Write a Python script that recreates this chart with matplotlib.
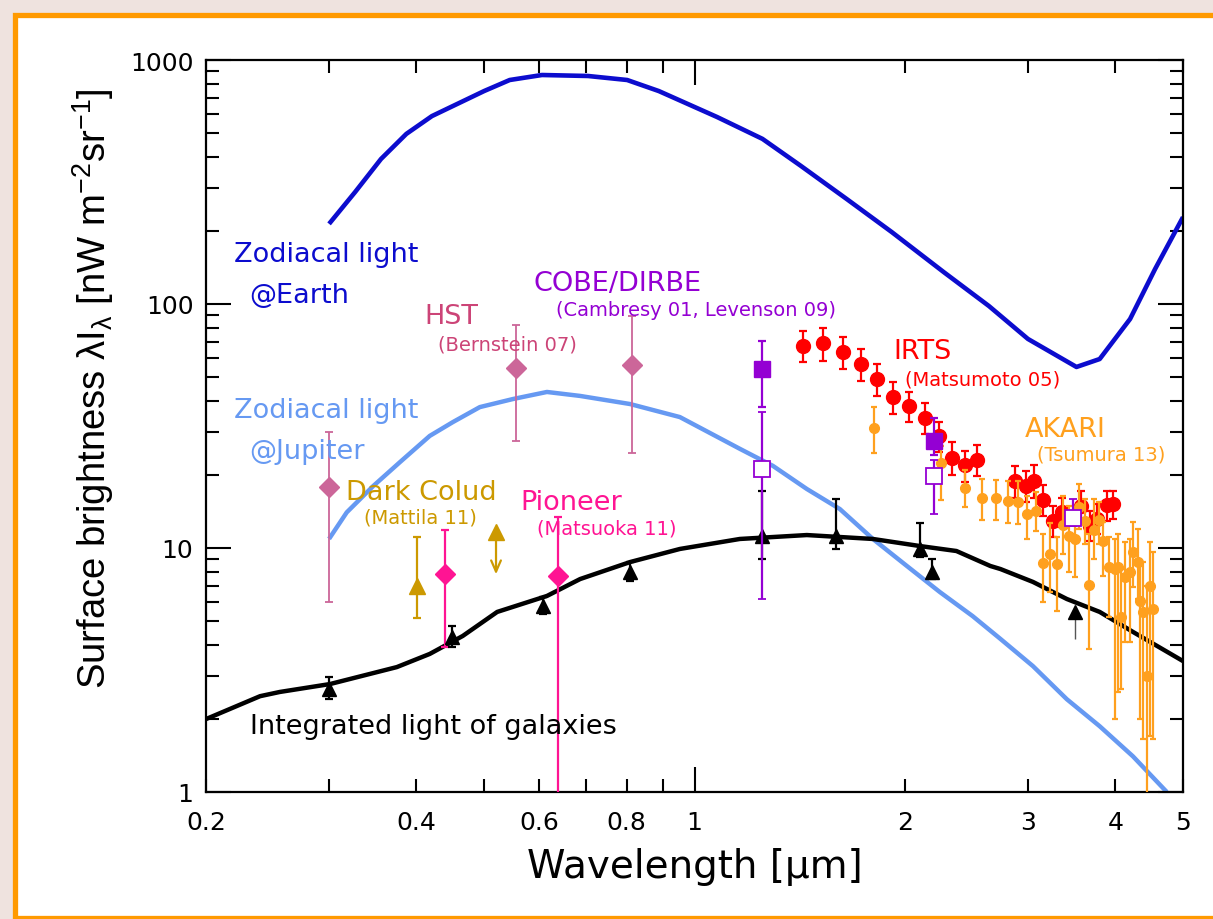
import numpy as np
import matplotlib
matplotlib.use('Agg')
import matplotlib.pyplot as plt
from matplotlib.patches import Rectangle
from matplotlib.ticker import FixedLocator, FixedFormatter, NullFormatter

# ---------------- data ----------------
# Zodiacal light @Earth
zle_wl = [0.30, 0.327, 0.356, 0.387, 0.421, 0.500, 0.544, 0.605, 0.704, 0.801, 0.889,
          1.077, 1.251, 1.420, 1.652, 1.916, 2.274, 2.638, 3.00, 3.52, 3.80, 4.20, 4.56, 5.0]
zle_val = [213, 288, 393, 498, 589, 746, 828, 868, 860, 828, 746,
           584, 475, 368, 269, 197, 135, 98.1, 71.9, 55.2, 59.5, 86.8, 139, 227]

# Zodiacal light @Jupiter
zlj_wl = [0.30, 0.318, 0.347, 0.379, 0.418, 0.451, 0.493, 0.550, 0.615, 0.686, 0.809, 0.953,
          1.161, 1.295, 1.448, 1.614, 1.80, 2.013, 2.244, 2.50, 2.74, 3.05, 3.41, 3.80, 4.24, 4.74]
zlj_val = [10.9, 14.0, 17.95, 22.5, 28.8, 32.8, 37.8, 40.8, 43.6, 42.0, 38.9, 34.4,
           25.5, 21.7, 17.45, 14.45, 10.89, 8.44, 6.6, 5.26, 4.24, 3.28, 2.40, 1.86, 1.40, 1.0]

# Integrated light of galaxies (model curve)
igl_wl = [0.2, 0.239, 0.255, 0.301, 0.375, 0.418, 0.466, 0.522, 0.615, 0.686, 0.809, 0.953,
          1.161, 1.448, 1.80, 2.10, 2.37, 2.65, 2.74, 3.05, 3.41, 3.80, 4.24, 5.0]
igl_val = [1.99, 2.47, 2.57, 2.77, 3.25, 3.68, 4.36, 5.47, 6.36, 7.46, 8.76, 9.91,
           10.89, 11.3, 10.89, 10.19, 9.72, 8.44, 8.20, 7.26, 6.18, 5.47, 4.53, 3.44]

# Integrated light of galaxies (measurements)
iglp_wl = [0.30, 0.45, 0.607, 0.809, 1.249, 1.593, 2.10, 2.19]
iglp_val = [2.64, 4.32, 5.78, 7.97, 11.2, 11.2, 9.91, 7.97]
iglp_hi = [2.96, 4.79, 6.30, 8.76, 17.1, 15.9, 12.7, 9.02]
iglp_lo = [2.40, 3.93, 5.37, 7.32, 9.02, 9.91, 9.19, 7.46]
iglp2_wl = [3.50]
iglp2_val = [5.47]
iglp2_lo = [4.24]

# HST (Bernstein 07)
hst_wl = [0.30, 0.555, 0.814]
hst_val = [17.8, 54.7, 56.2]
hst_hi = [29.9, 82.0, 89.3]
hst_lo = [6.01, 27.4, 24.5]

# Pioneer (Matsuoka 11)
pio_wl = [0.439, 0.638]
pio_val = [7.82, 7.68]
pio_hi = [11.85, 13.4]
pio_lo = [3.93, 0.9]

# Dark Cloud (Mattila 11)
dc_wl = [0.401]
dc_val = [6.99]
dc_hi = [11.09]
dc_lo = [5.17]
dcr_wl = [0.520]
dcr_top = [11.6]
dcr_bot = [7.8]

# COBE/DIRBE (Cambresy 01, Levenson 09)
cobef_wl = [1.25, 2.2]
cobef_val = [54.2, 27.4]
cobef_hi = [70.5, 34.1]
cobef_lo = [37.8, 24.0]
cobeo_wl = [1.25, 2.2, 3.48]
cobeo_val = [21.1, 19.7, 13.3]
cobeo_hi = [36.1, 23.0, 15.9]
cobeo_lo = [6.18, 13.8, 12.3]

# IRTS (Matsumoto 05)
irts_wl = [1.430, 1.525, 1.629, 1.729, 1.826, 1.924, 2.029, 2.137, 2.240, 2.336, 2.437, 2.536,
           2.874, 2.978, 3.06, 3.154, 3.26, 3.36, 3.57, 3.68, 3.77, 3.89, 3.97]
irts_val = [67.5, 69.2, 63.8, 56.8, 49.3, 41.5, 38.1, 34.1, 28.7, 23.3, 21.9, 22.9,
            18.8, 17.9, 18.9, 15.7, 12.9, 14.1, 14.9, 12.3, 13.1, 15.0, 15.1]
irts_hi = [77.8, 79.5, 73.0, 65.4, 56.8, 48.1, 43.7, 39.3, 32.9, 27.1, 25.0, 26.4,
           21.7, 20.7, 21.9, 18.2, 14.9, 16.1, 17.2, 14.2, 15.1, 17.2, 17.2]
irts_lo = [57.7, 58.6, 54.2, 48.5, 42.1, 35.4, 32.7, 29.3, 24.8, 20.0, 18.7, 19.7,
           16.1, 15.4, 16.1, 13.5, 11.1, 12.2, 12.7, 10.7, 11.4, 12.9, 13.1]

# AKARI (Tsumura 13)
akari_wl = [1.806, 2.249, 2.437, 2.577, 2.700, 2.811, 2.902, 2.994, 3.084, 3.154, 3.231, 3.305,
            3.365, 3.433, 3.502, 3.548, 3.619, 3.663, 3.728, 3.789, 3.844, 3.921, 3.995, 4.041,
            4.074, 4.129, 4.198, 4.243, 4.314, 4.338, 4.385, 4.435, 4.483, 4.532]
akari_val = [31.0, 22.3, 17.6, 16.0, 16.0, 15.6, 15.5, 13.8, 14.2, 8.68, 9.45, 8.60,
             12.4, 11.2, 10.9, 14.7, 12.9, 7.07, 11.9, 13.0, 10.7, 8.33, 8.20, 8.32,
             5.21, 7.59, 7.95, 9.60, 8.74, 6.08, 5.45, 3.0, 7.01, 5.62]
akari_hi = [37.8, 26.2, 20.9, 19.2, 19.0, 18.8, 18.8, 16.3, 17.0, 11.4, 12.7, 11.1,
            16.3, 14.9, 14.3, 18.3, 15.9, 11.4, 15.9, 15.4, 12.8, 11.1, 10.9, 11.4,
            8.20, 10.6, 10.9, 12.8, 12.0, 8.76, 8.76, 6.99, 10.6, 9.63]
akari_lo = [24.5, 15.7, 14.7, 13.0, 13.0, 12.7, 12.5, 10.9, 11.7, 6.01, 6.6, 5.52,
            9.45, 7.97, 7.61, 12.0, 10.4, 3.85, 9.02, 10.4, 7.68, 5.21, 1.99, 2.57,
            2.64, 4.12, 4.12, 6.92, 6.18, 1.99, 1.65, 0.95, 1.70, 1.65]

# ---------------- style ----------------
C_EARTH = '#0c0cce'
C_JUP = '#6699f2'
C_HST_PT = '#cc6699'
C_HST_TX = '#cc4477'
C_COBE = '#9400d3'
C_IRTS = '#ff0000'
C_AKARI = '#ffa01e'
C_DC = '#cc9900'
C_PIO = '#ff1493'

W, H = 1213, 920
fig = plt.figure(figsize=(W / 100, H / 100), dpi=100, facecolor='#efe3df')
bg = fig.add_axes([0, 0, 1, 1], zorder=-5)
bg.set_axis_off()
bg.set_xlim(0, 1)
bg.set_ylim(0, 1)
bg.add_patch(Rectangle((14.5 / W, 1 / H), 1.2, (H - 16.5) / H, transform=bg.transAxes,
                       facecolor='white', edgecolor='#ff9a00', linewidth=3.8, clip_on=False))

ax = fig.add_axes([206 / W, (H - 793) / H, 977 / W, 732 / H], zorder=1)
ax.set_facecolor('white')
ax.set_xscale('log')
ax.set_yscale('log')


def yerr(v, hi, lo):
    v = np.asarray(v, float)
    return [v - np.asarray(lo, float), np.asarray(hi, float) - v]


# curves
ax.plot(zle_wl, zle_val, color=C_EARTH, lw=3.3, zorder=2, solid_capstyle='butt')
ax.plot(zlj_wl, zlj_val, color=C_JUP, lw=3.2, zorder=2, solid_capstyle='butt')
ax.plot(igl_wl, igl_val, color='black', lw=3.2, zorder=2, solid_capstyle='butt')

# IGL measurements
ax.errorbar(iglp_wl, iglp_val, yerr=yerr(iglp_val, iglp_hi, iglp_lo), fmt='^', color='black',
            ms=10, elinewidth=1.6, capsize=3, capthick=1.6, zorder=4)
ax.errorbar(iglp2_wl, iglp2_val, yerr=yerr(iglp2_val, iglp2_val, iglp2_lo), fmt='^',
            color='black', ecolor='#555555', ms=10, elinewidth=1.0, capsize=0, zorder=4)

# HST
ax.errorbar(hst_wl, hst_val, yerr=yerr(hst_val, hst_hi, hst_lo), fmt='D', color=C_HST_PT,
            ms=10, elinewidth=1.3, capsize=3.2, capthick=1.3, zorder=3)

# Pioneer
ax.errorbar(pio_wl, pio_val, yerr=yerr(pio_val, pio_hi, pio_lo), fmt='D', color=C_PIO,
            ms=10, elinewidth=1.6, capsize=3, capthick=1.6, zorder=3)

# Dark cloud
ax.errorbar(dc_wl, dc_val, yerr=yerr(dc_val, dc_hi, dc_lo), fmt='^', color=C_DC,
            ms=11, elinewidth=1.6, capsize=3.2, capthick=1.6, zorder=3)
for x, t, b in zip(dcr_wl, dcr_top, dcr_bot):
    ax.annotate('', xy=(x, b), xytext=(x, t),
                arrowprops=dict(arrowstyle='->,head_length=0.8,head_width=0.35',
                                color=C_DC, lw=1.6, shrinkA=0, shrinkB=0), zorder=3)
ax.plot(dcr_wl, dcr_top, '^', color=C_DC, ms=11, zorder=3)

# IRTS
ax.errorbar(irts_wl, irts_val, yerr=yerr(irts_val, irts_hi, irts_lo), fmt='o', color=C_IRTS,
            ms=10, elinewidth=1.6, capsize=3, capthick=1.6, zorder=5)

# AKARI
ax.errorbar(akari_wl, akari_val, yerr=yerr(akari_val, akari_hi, akari_lo), fmt='o',
            color=C_AKARI, ms=7, elinewidth=1.6, capsize=2.4, capthick=1.6, zorder=6)

# COBE/DIRBE
ax.errorbar(cobef_wl, cobef_val, yerr=yerr(cobef_val, cobef_hi, cobef_lo), fmt='s',
            color=C_COBE, ms=11.5, elinewidth=1.6, capsize=3, capthick=1.6, zorder=7)
ax.errorbar(cobeo_wl, cobeo_val, yerr=yerr(cobeo_val, cobeo_hi, cobeo_lo), fmt='s',
            color=C_COBE, mfc='white', mec=C_COBE, mew=1.3, ms=11.5, elinewidth=1.6,
            capsize=3, capthick=1.6, zorder=7)

# axes
ax.set_xlim(0.2, 5)
ax.set_ylim(1, 1000)

ax.xaxis.set_major_locator(FixedLocator([1]))
ax.xaxis.set_major_formatter(FixedFormatter(['1']))
xminor = [0.2, 0.3, 0.4, 0.5, 0.6, 0.7, 0.8, 0.9, 2, 3, 4, 5]
xminor_lab = ['0.2', '', '0.4', '', '0.6', '', '0.8', '', '2', '3', '4', '5']
ax.xaxis.set_minor_locator(FixedLocator(xminor))
ax.xaxis.set_minor_formatter(FixedFormatter(xminor_lab))

ax.yaxis.set_major_locator(FixedLocator([1, 10, 100, 1000]))
ax.yaxis.set_major_formatter(FixedFormatter(['1', '10', '100', '1000']))
ymin = [m * d for d in (1, 10, 100) for m in range(2, 10)]
ax.yaxis.set_minor_locator(FixedLocator(ymin))
ax.yaxis.set_minor_formatter(NullFormatter())

ax.tick_params(which='both', direction='in', top=True, right=True, width=1.5,
               labelsize=18, color='black')
ax.tick_params(which='major', length=18)
ax.tick_params(which='minor', length=9.5)
ax.tick_params(axis='x', which='both', pad=13)
ax.tick_params(axis='y', which='both', pad=9)
for s in ax.spines.values():
    s.set_linewidth(1.6)

ax.set_xlabel('Wavelength [μm]', fontsize=28, labelpad=9)
ax.set_ylabel('Surface brightness λI$_{\\mathregular{λ}}$ [nW m$^{\\mathregular{-2}}$sr$^{\\mathregular{-1}}$]',
              fontsize=27.5, family='Liberation Sans', labelpad=6)
ax.yaxis.set_label_coords(-0.092, 0.552)

# annotations (axes-fraction positions)
BIG = 19.5
SMALL = 14
tx = [
    (0.0287, 0.735, 'Zodiacal light', C_EARTH, BIG),
    (0.0440, 0.679, '@Earth', C_EARTH, BIG),
    (0.2231, 0.650, 'HST', C_HST_TX, BIG),
    (0.2375, 0.612, '(Bernstein 07)', C_HST_TX, SMALL),
    (0.3347, 0.6954, 'COBE/DIRBE', C_COBE, BIG),
    (0.3582, 0.6598, '(Cambresy 01, Levenson 09)', C_COBE, SMALL),
    (0.7032, 0.6025, 'IRTS', C_IRTS, BIG),
    (0.7155, 0.5642, '(Matsumoto 05)', C_IRTS, SMALL),
    (0.8383, 0.4959, 'AKARI', C_AKARI, BIG),
    (0.8506, 0.4617, '(Tsumura 13)', C_AKARI, SMALL),
    (0.0287, 0.5219, 'Zodiacal light', C_JUP, BIG),
    (0.0440, 0.4658, '@Jupiter', C_JUP, BIG),
    (0.1433, 0.4098, 'Dark Colud', C_DC, BIG),
    (0.1617, 0.3757, '(Mattila 11)', C_DC, SMALL),
    (0.3214, 0.3962, 'Pioneer', C_PIO, BIG),
    (0.3388, 0.3607, '(Matsuoka 11)', C_PIO, SMALL),
    (0.0450, 0.0902, 'Integrated light of galaxies', 'black', BIG),
]
for x, y, s, c, fs in tx:
    ax.text(x, y, s, color=c, fontsize=fs, ha='left', va='center', transform=ax.transAxes,
            zorder=10)

fig.savefig('out.png', dpi=100, facecolor=fig.get_facecolor())
